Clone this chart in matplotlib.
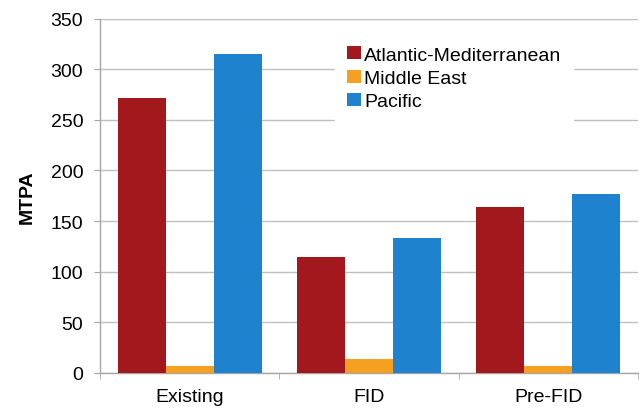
import numpy as np
import matplotlib.pyplot as plt

categories = ["Existing", "FID", "Pre-FID"]
series_names = ["Atlantic-Mediterranean", "Middle East", "Pacific"]
atlantic = [271.5, 114.5, 163.5]
middle_east = [6.6, 13.8, 6.6]
pacific = [315, 133, 176.5]
colors = ["#A3181D", "#F5A020", "#1E82CE"]

plt.rcParams["font.family"] = ["Liberation Sans", "DejaVu Sans"]

fig = plt.figure(figsize=(6.39, 4.10), dpi=100)
ax = fig.add_axes([0.1565, 0.088, 0.842, 0.864])

x = np.arange(len(categories))
w = 0.268
for i, (vals, name) in enumerate(zip([atlantic, middle_east, pacific], series_names)):
    ax.bar(x + (i - 1) * w, vals, width=w, color=colors[i], label=name, zorder=3)

ax.set_xlim(-0.5, 2.5)
ax.set_ylim(0, 350)
ax.set_yticks(np.arange(0, 351, 50))
ax.set_xticks(x)
ax.set_xticklabels(categories, fontsize=14)
ax.set_xticks([-0.5, 0.5, 1.5, 2.5], minor=True)
ax.tick_params(axis="x", which="major", length=0, pad=11)
ax.tick_params(axis="x", which="minor", length=4, color="#A6A6A6", direction="out")
ax.tick_params(axis="y", length=4, color="#A6A6A6", labelsize=14, pad=8)

ax.grid(axis="y", color="#C0C0C0", linewidth=1, zorder=0)
for s in ["top", "right"]:
    ax.spines[s].set_visible(False)
for s in ["left", "bottom"]:
    ax.spines[s].set_color("#A6A6A6")
    ax.spines[s].set_linewidth(1)

ax.set_ylabel("MTPA", fontsize=14, fontweight="bold", labelpad=11)

leg = ax.legend(loc="upper left", bbox_to_anchor=(0.419, 0.982), fontsize=14,
                handlelength=0.75, handleheight=0.65, handletextpad=0.15,
                labelspacing=0.3, frameon=True, fancybox=False, borderpad=0.6)
leg.get_frame().set_facecolor("white")
leg.get_frame().set_edgecolor("white")
leg.get_frame().set_alpha(1)
leg.set_zorder(5)

fig.savefig("out.png", dpi=100)
